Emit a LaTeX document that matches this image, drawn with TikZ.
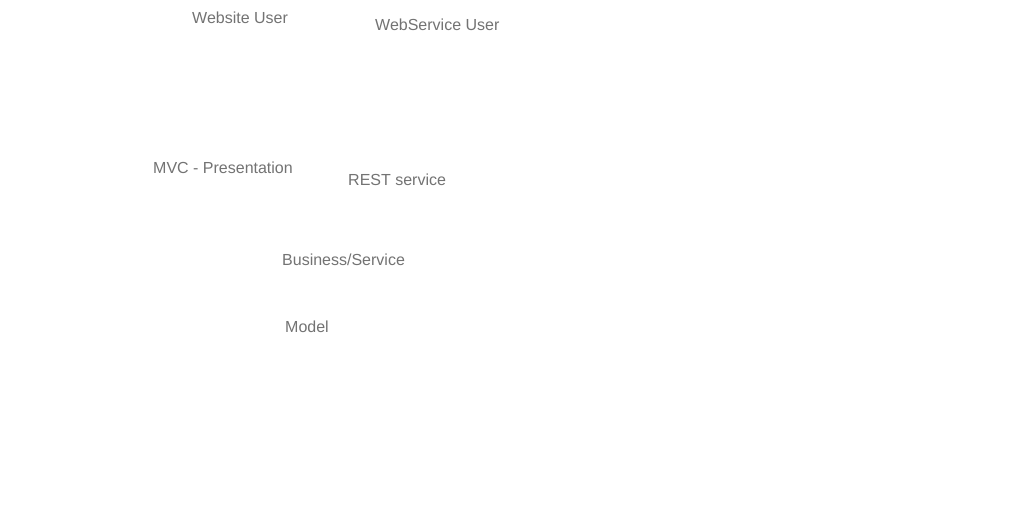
\documentclass[tikz,border=0pt]{standalone}
\usepackage{fontspec}
\setmainfont{Liberation Sans}
\begin{document}
\begin{tikzpicture}[x=1pt,y=-1pt,
  lbl/.style={anchor=west,inner sep=0pt,font=\fontsize{16}{19}\selectfont,text=black!55}]
\fill[white] (0,0) rectangle (1033,508);
\useasboundingbox (0,0) rectangle (1033,508);
\node[lbl] (wsuser) at (192,18) {Website User};
\node[lbl] (wsvcuser) at (375,25) {WebService User};
\node[lbl] (mvc) at (153,168) {MVC - Presentation};
\node[lbl] (rest) at (348,180) {REST service};
\node[lbl] (biz) at (282,260) {Business/Service};
\node[lbl] (model) at (285,327) {Model};
\end{tikzpicture}
\end{document}
